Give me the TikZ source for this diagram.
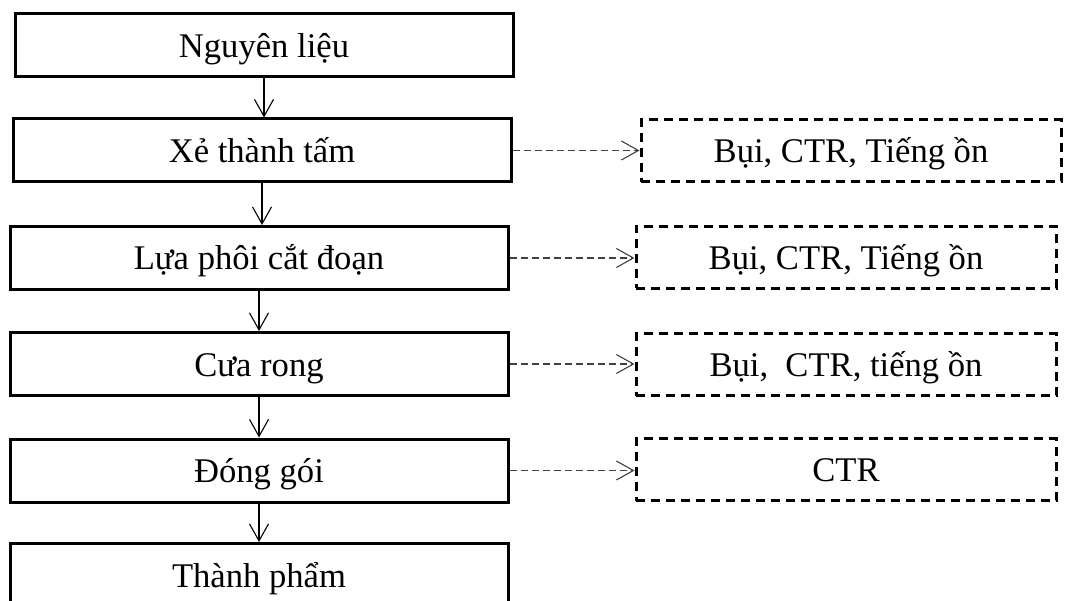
\documentclass[tikz,border=0pt]{standalone}
\usepackage{fontspec}
\setmainfont{Liberation Serif}
\usetikzlibrary{arrows.meta}
\begin{document}
\begin{tikzpicture}[x=1pt,y=-1pt,
  txt/.style={font=\fontsize{34.6}{40}\selectfont, text height=24pt, text depth=0pt, inner sep=0pt},
  proc/.style={txt, draw, line width=3pt, minimum width=498pt, minimum height=63pt},
  outbox/.style={txt, draw, line width=3pt, dash pattern=on 9pt off 6pt, minimum width=420pt, minimum height=62pt},
  flow/.style={line width=1.1pt, -{Straight Barb[length=17pt,width=19pt]}},
  emit/.style={flow, dash pattern=on 7pt off 4pt, draw=black!75}]
\useasboundingbox (0,0) rectangle (1067,601);
\clip (0,0) rectangle (1067,601);
\node[proc] (n1) at (264,45.5) {Nguyên liệu};
\node[proc] (n2) at (262,150.5) {Xẻ thành tấm};
\node[proc] (n3) at (259,258) {Lựa phôi cắt đoạn};
\node[proc] (n4) at (259,364) {Cưa rong};
\node[proc] (n5) at (259,470.5) {Đóng gói};
\node[proc] (n6) at (259,575) {Thành phẩm};
\node[outbox] (o2) at (851,151) {Bụi, CTR, Tiếng ồn};
\node[outbox] (o3) at (846,257.5) {Bụi, CTR, Tiếng ồn};
\node[outbox] (o4) at (846,364.5) {Bụi,~ CTR, tiếng ồn};
\node[outbox] (o5) at (846,469.5) {CTR};
\draw[flow] (n1.south) -- (n1.south |- n2.north);
\draw[flow] (n2.south) -- (n2.south |- n3.north);
\draw[flow] (n3.south) -- (n3.south |- n4.north);
\draw[flow] (n4.south) -- (n4.south |- n5.north);
\draw[flow] (n5.south) -- (n5.south |- n6.north);
\draw[emit] (n2.east) -- (n2.east -| o2.west);
\draw[emit] (n3.east) -- (n3.east -| o3.west);
\draw[emit] (n4.east) -- (n4.east -| o4.west);
\draw[emit] (n5.east) -- (n5.east -| o5.west);
\end{tikzpicture}
\end{document}
